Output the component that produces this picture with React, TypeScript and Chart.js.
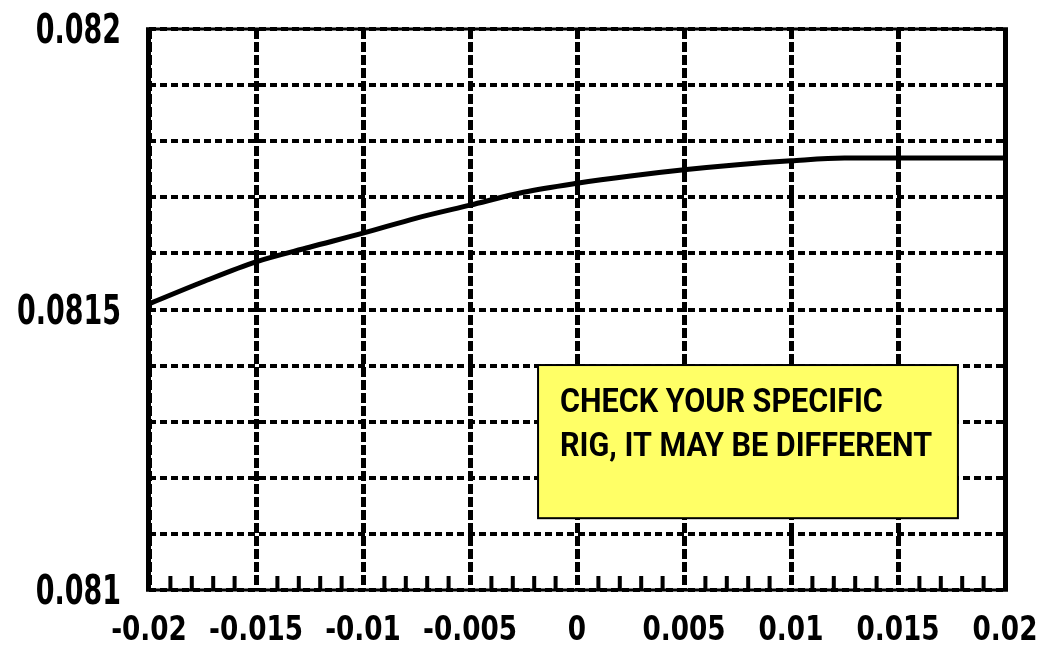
import React, { useEffect, useRef } from "react";
import { Chart, registerables } from "chart.js";

Chart.register(...registerables);

const xValues = [-0.02, -0.0175, -0.015, -0.0125, -0.01, -0.0075, -0.005, -0.0025, 0, 0.0025, 0.005, 0.0075, 0.01, 0.0125, 0.015, 0.0175, 0.02];
const yValues = [0.08151, 0.081549, 0.081585, 0.081611, 0.081636, 0.081663, 0.081686, 0.081709, 0.081725, 0.081738, 0.081749, 0.081758, 0.081765, 0.08177, 0.08177, 0.08177, 0.08177];

const xTickValues = [-0.02, -0.015, -0.01, -0.005, 0, 0.005, 0.01, 0.015, 0.02];
const xTickLabels = ["-0.02", "-0.015", "-0.01", "-0.005", "0", "0.005", "0.01", "0.015", "0.02"];
const yTickValues = [0.081, 0.0815, 0.082];
const yTickLabels = ["0.081", "0.0815", "0.082"];

const noteLines = ["CHECK YOUR SPECIFIC", "RIG, IT MAY BE DIFFERENT"];
const noteBox = { x0: -0.00182, x1: 0.0178, y0: 0.081401, y1: 0.081128 };

const TICK_FONT = "'DejaVu Sans', sans-serif";
const NOTE_FONT = "Roboto, 'DejaVu Sans', sans-serif";

function drawSqueezed(ctx: any, text: string, x: number, y: number, sx: number, align: string) {
  const w = ctx.measureText(text).width * sx;
  let x0 = x;
  if (align === "center") x0 = x - w / 2;
  else if (align === "right") x0 = x - w;
  ctx.save();
  ctx.translate(x0, y);
  ctx.scale(sx, 1);
  ctx.textAlign = "left";
  ctx.fillText(text, 0, 0);
  ctx.restore();
}

const framePlugin = {
  id: "frame",
  afterDraw(chart: any) {
    const { ctx, chartArea } = chart;
    const { left, right, top, bottom } = chartArea;
    const xs = chart.scales.x;
    const ys = chart.scales.y;
    ctx.save();
    // minor ticks along bottom (inward)
    ctx.strokeStyle = "#000";
    ctx.lineWidth = 4;
    ctx.beginPath();
    for (let i = -20; i <= 20; i++) {
      if (i % 5 === 0) continue;
      const px = xs.getPixelForValue(i / 1000);
      ctx.moveTo(px, bottom);
      ctx.lineTo(px, bottom - 14);
    }
    ctx.stroke();
    // borders
    ctx.fillStyle = "#000";
    ctx.fillRect(left - 3, top - 1.5, right - left + 6, 3);
    ctx.fillRect(left - 3, bottom - 1.5, right - left + 6, 3);
    ctx.fillRect(left - 3, top - 1.5, 5, bottom - top + 3);
    ctx.fillRect(right - 2, top - 1.5, 5, bottom - top + 3);

    // tick labels
    ctx.fillStyle = "#000";
    ctx.textBaseline = "alphabetic";
    ctx.font = "bold 34px " + TICK_FONT;
    const sxX = 94 / ctx.measureText("-0.015").width;
    xTickValues.forEach((v, i) => {
      drawSqueezed(ctx, xTickLabels[i], xs.getPixelForValue(v), bottom + 50, sxX, "center");
    });
    ctx.font = "bold 41px " + TICK_FONT;
    const sxY = 104 / ctx.measureText("0.0815").width;
    yTickValues.forEach((v, i) => {
      drawSqueezed(ctx, yTickLabels[i], left - 28, ys.getPixelForValue(v) + 14, sxY, "right");
    });

    // note box
    const bx0 = xs.getPixelForValue(noteBox.x0);
    const bx1 = xs.getPixelForValue(noteBox.x1);
    const by0 = ys.getPixelForValue(noteBox.y0);
    const by1 = ys.getPixelForValue(noteBox.y1);
    ctx.fillStyle = "#FFFF66";
    ctx.fillRect(bx0, by0, bx1 - bx0, by1 - by0);
    ctx.strokeStyle = "#000";
    ctx.lineWidth = 2;
    ctx.strokeRect(bx0, by0, bx1 - bx0, by1 - by0);
    ctx.fillStyle = "#000";
    ctx.font = "bold 33px " + NOTE_FONT;
    const sxN = 372 / ctx.measureText(noteLines[1]).width;
    noteLines.forEach((t, i) => {
      drawSqueezed(ctx, t, bx0 + 22, by0 + 47 + i * 44, sxN, "left");
    });
    ctx.restore();
  },
};

export default function App() {
  const ref = useRef<HTMLCanvasElement | null>(null);
  useEffect(() => {
    if (!ref.current) return;
    const chart = new Chart(ref.current, {
      type: "line",
      data: {
        datasets: [
          {
            data: xValues.map((x, i) => ({ x, y: yValues[i] })),
            borderColor: "#000",
            borderWidth: 5,
            pointRadius: 0,
            cubicInterpolationMode: "monotone",
            fill: false,
          },
        ],
      },
      options: {
        animation: false,
        responsive: false,
        events: [],
        layout: { padding: { top: 29, right: 52, left: 0, bottom: 0 } },
        plugins: { legend: { display: false }, tooltip: { enabled: false } },
        scales: {
          x: {
            type: "linear",
            min: -0.02,
            max: 0.02,
            afterFit: (s: any) => { s.height = 62; },
            afterBuildTicks: (s: any) => { s.ticks = xTickValues.map((v) => ({ value: v })); },
            border: { display: false, dash: [10, 3] },
            grid: { color: "#000", lineWidth: 5, drawTicks: false },
            ticks: { display: false },
          },
          y: {
            type: "linear",
            min: 0.081,
            max: 0.082,
            afterFit: (s: any) => { s.width = 149; },
            afterBuildTicks: (s: any) => {
              const t = [];
              for (let i = 0; i <= 10; i++) t.push({ value: 0.081 + i * 0.0001 });
              s.ticks = t;
            },
            border: { display: false, dash: [7, 4] },
            grid: { color: "#000", lineWidth: 4, drawTicks: false },
            ticks: { display: false },
          },
        },
      },
      plugins: [framePlugin],
    } as any);
    return () => chart.destroy();
  }, []);
  return (
    <div style={{ position: "absolute", left: 0, top: 0, width: 1057, height: 652, background: "#fff" }}>
      <canvas ref={ref} width={1057} height={652} />
    </div>
  );
}
